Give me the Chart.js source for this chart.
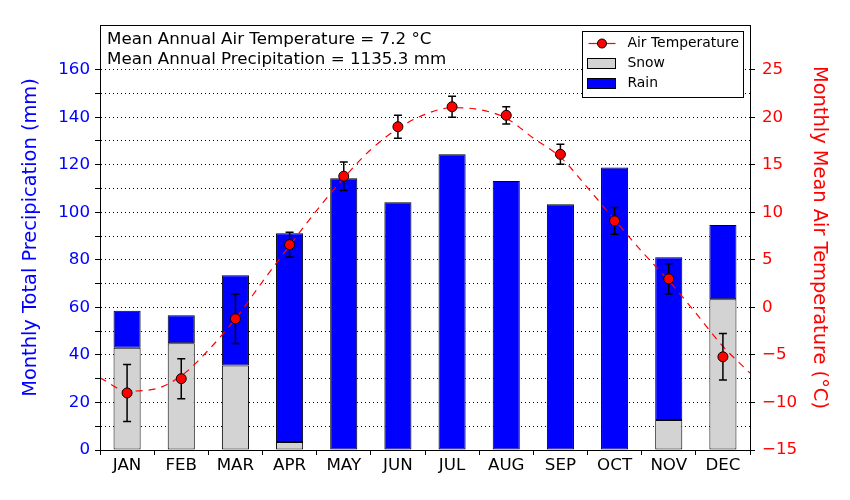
<!DOCTYPE html>
<html>
<head>
<meta charset="utf-8">
<script src="https://cdn.jsdelivr.net/npm/chart.js@4.4.0/dist/chart.umd.min.js"></script>
<style>
    html, body { margin: 0; padding: 0; background: #fff; }
</style>
</head>
<body>
<canvas id="klimaChart" width="850" height="500"></canvas>
<script>
const monate = ['JAN', 'FEB', 'MAR', 'APR', 'MAY', 'JUN', 'JUL', 'AUG', 'SEP', 'OCT', 'NOV', 'DEC'];
const schnee = [43.0, 44.9, 35.5, 3.4, 0, 0, 0, 0, 0, 0, 12.6, 63.4];
const regen = [15.6, 11.8, 38.0, 87.8, 114.3, 104.2, 124.4, 113.2, 103.4, 118.9, 68.5, 31.3];
const temperatur = [-9.0, -7.5, -1.2, 6.6, 13.8, 19.0, 21.1, 20.2, 16.1, 9.1, 3.0, -5.2];
const temperaturFehler = [3.0, 2.1, 2.6, 1.3, 1.5, 1.2, 1.1, 0.9, 1.05, 1.4, 1.6, 2.45];

// gestrichelte Ausgleichskurve (Monatsindex / Temperatur)
const kurveX = [-0.5, 0, 0.5, 1, 1.5, 2, 2.5, 3, 3.5, 4, 4.5, 5, 5.5, 6, 6.5, 7, 7.5, 8, 8.5, 9, 9.5, 10, 10.5, 11, 11.5];
const kurveT = [-7.4, -8.8, -8.6, -7.2, -4.5, -1.2, 2.7, 6.5, 10.2, 13.6, 16.6, 18.8, 20.3, 21.0, 20.8, 19.9, 17.8, 15.8, 12.6, 9.2, 5.9, 2.8, -0.6, -4.1, -6.9];

// Achsen-Ticks
const niederschlagTicks = [0, 5, 10, 15, 20, 25, 30, 35, 40, 45, 50, 55, 60, 65, 70, 75, 80, 85, 90, 95, 100, 105, 110, 115, 120, 125, 130, 135, 140, 145, 150, 155, 160];
const temperaturTicks = [-15, -10, -5, 0, 5, 10, 15, 20, 25];

const textZeilen = ['Mean Annual Air Temperature = 7.2 °C', 'Mean Annual Precipitation = 1135.3 mm'];

const FONT = 'DejaVu Sans';
Chart.defaults.font.family = FONT;

// Fehlerbalken direkt vor den Temperaturpunkten zeichnen
const fehlerPlugin = {
    id: 'fehler',
    beforeDatasetDraw(chart, args) {
        if (args.index !== 3) return;
        const xs = chart.scales.x2, ys = chart.scales.y2, ctx = chart.ctx;
        ctx.save();
        ctx.strokeStyle = '#000';
        ctx.lineWidth = 1.5;
        temperatur.forEach((t, i) => {
            const x = xs.getPixelForValue(i);
            const yu = ys.getPixelForValue(t - temperaturFehler[i]);
            const yo = ys.getPixelForValue(t + temperaturFehler[i]);
            ctx.beginPath();
            ctx.moveTo(x, yu); ctx.lineTo(x, yo);
            ctx.moveTo(x - 4, yu); ctx.lineTo(x + 4, yu);
            ctx.moveTo(x - 4, yo); ctx.lineTo(x + 4, yo);
            ctx.stroke();
        });
        ctx.restore();
    }
};

// Rahmen, Textzeilen und Legende
const rahmenPlugin = {
    id: 'rahmen',
    afterDraw(chart) {
        const ctx = chart.ctx, a = chart.chartArea;
        const l = Math.round(a.left) + 0.5, r = Math.round(a.right) + 0.5;
        const t = Math.round(a.top) + 0.5, b = Math.round(a.bottom) + 0.5;
        ctx.save();
        ctx.strokeStyle = '#000';
        ctx.lineWidth = 1;
        ctx.strokeRect(l, t, r - l, b - t);

        ctx.fillStyle = '#000';
        ctx.font = '16.7px "' + FONT + '"';
        ctx.textBaseline = 'alphabetic';
        ctx.fillText(textZeilen[0], a.left + 7, a.top + 18.5);
        ctx.fillText(textZeilen[1], a.left + 7, a.top + 39);

        // Legende
        const bx = Math.round(a.right) - 167.5, by = Math.round(a.top) + 6.5, bw = 161, bh = 66;
        ctx.fillStyle = '#fff';
        ctx.fillRect(bx, by, bw, bh);
        ctx.strokeRect(bx, by, bw, bh);
        const ds = chart.data.datasets;
        const zeilen = [ds[3], ds[0], ds[1]];
        ctx.font = '13.9px "' + FONT + '"';
        ctx.textBaseline = 'middle';
        zeilen.forEach((d, i) => {
            const y = by + 12 + i * 20;
            if (i === 0) {
                ctx.strokeStyle = '#ff0000';
                ctx.lineWidth = 1.2;
                ctx.beginPath(); ctx.moveTo(bx + 6, y); ctx.lineTo(bx + 33, y); ctx.stroke();
                ctx.beginPath(); ctx.arc(bx + 19.5, y, 4.5, 0, Math.PI * 2);
                ctx.fillStyle = '#ff0000'; ctx.fill();
                ctx.strokeStyle = '#000'; ctx.lineWidth = 1; ctx.stroke();
            } else {
                ctx.fillStyle = d.backgroundColor;
                ctx.fillRect(bx + 5, y - 5, 28, 10);
                ctx.strokeStyle = '#000'; ctx.lineWidth = 1;
                ctx.strokeRect(bx + 5, y - 5, 28, 10);
            }
            ctx.fillStyle = '#000';
            ctx.fillText(d.label, bx + 45, y);
        });
        ctx.restore();
    }
};

const config = {
    type: 'bar',
    data: {
        labels: monate,
        datasets: [{
            label: 'Snow', data: schnee, backgroundColor: '#d3d3d3', borderColor: '#000', borderWidth: 1,
            borderSkipped: false, grouped: false, stack: 'p', barPercentage: 0.5, categoryPercentage: 1,
            xAxisID: 'x', yAxisID: 'y', order: 3
        }, {
            label: 'Rain', data: regen, backgroundColor: '#0000ff', borderColor: '#000', borderWidth: 1,
            borderSkipped: false, grouped: false, stack: 'p', barPercentage: 0.5, categoryPercentage: 1,
            xAxisID: 'x', yAxisID: 'y', order: 3
        }, {
            type: 'line', label: 'Fit', data: kurveX.map((x, i) => ({x: x, y: kurveT[i]})),
            xAxisID: 'x2', yAxisID: 'y2', borderColor: '#ff0000', borderWidth: 1.2, borderDash: [7, 6],
            pointRadius: 0, cubicInterpolationMode: 'monotone', fill: false, order: 2
        }, {
            type: 'line', label: 'Air Temperature', data: temperatur.map((t, i) => ({x: i, y: t})),
            xAxisID: 'x2', yAxisID: 'y2', showLine: false, pointRadius: 5, pointHoverRadius: 5,
            pointBackgroundColor: '#ff0000', pointBorderColor: '#000', pointBorderWidth: 1, order: 1
        }]
    },
    options: {
        responsive: false, animation: false,
        layout: {padding: {top: 25, left: 0, right: 0, bottom: 0}},
        plugins: {legend: {display: false}, tooltip: {enabled: false}},
        scales: {
            x: {
                type: 'category', stacked: true, offset: true,
                grid: {offset: true, drawOnChartArea: false, tickLength: 5, tickColor: '#000'},
                border: {color: '#000'},
                ticks: {color: '#000', font: {size: 16.7}, padding: 1, maxRotation: 0},
                afterFit: s => { s.height = 50; }
            },
            x2: {type: 'linear', min: -0.5, max: 11.5, offset: false, display: false},
            y: {
                position: 'left', stacked: true, min: 0, max: 178.8,
                afterBuildTicks: s => { s.ticks = niederschlagTicks.map(v => ({value: v})); },
                ticks: {color: '#0000ff', font: {size: 16.7}, padding: 5, callback: v => (v % 20 === 0 ? v : '')},
                grid: {color: '#000', lineWidth: 1, tickLength: 5, tickColor: '#000', tickBorderDash: []},
                border: {color: '#000', dash: [1, 3]},
                title: {display: true, text: 'Monthly Total Precipication (mm)', color: '#0000ff', font: {size: 19.4}, padding: {top: 19.4, bottom: 0}},
                afterFit: s => { s.width = 100; }
            },
            y2: {
                position: 'right', min: -15, max: 29.7,
                afterBuildTicks: s => { s.ticks = temperaturTicks.map(v => ({value: v})); },
                ticks: {color: '#ff0000', font: {size: 16.7}, padding: 7, callback: v => (v < 0 ? '\u2212' + Math.abs(v) : v)},
                grid: {drawOnChartArea: false, tickLength: 5, tickColor: '#000'},
                border: {color: '#000'},
                title: {display: true, text: 'Monthly Mean Air Temperature (°C)', color: '#ff0000', font: {size: 19.4}, padding: {top: 19.4, bottom: 0}},
                afterFit: s => { s.width = 100; }
            }
        }
    },
    plugins: [fehlerPlugin, rahmenPlugin]
};

// Diagramm erstellen
const klimaChart = new Chart(document.getElementById('klimaChart'), config);
</script>
</body>
</html>
